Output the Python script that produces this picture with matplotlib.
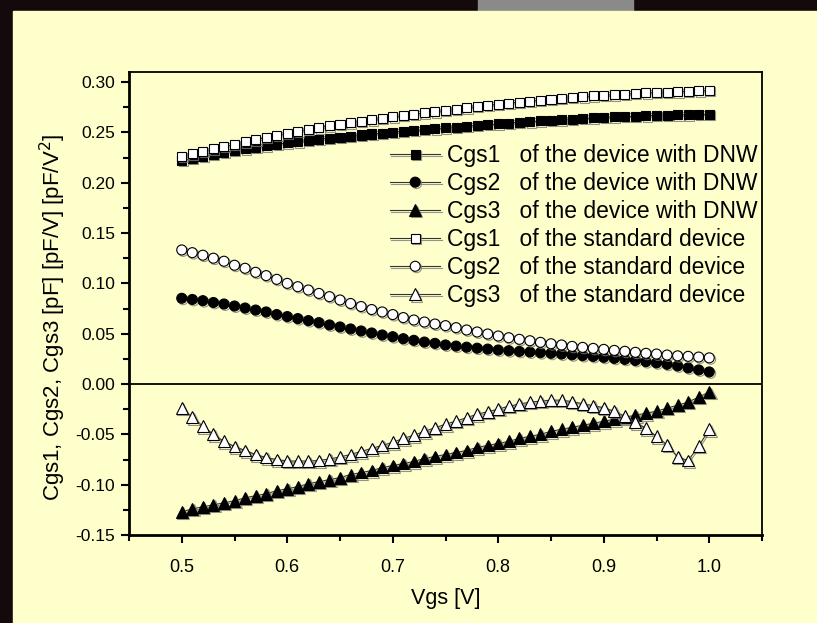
import matplotlib
matplotlib.use("Agg")
import matplotlib.pyplot as plt
import matplotlib.patheffects as pe
from matplotlib.patches import Rectangle
from matplotlib.ticker import MultipleLocator, FormatStrFormatter

plt.rcParams['font.family'] = ['Liberation Sans', 'DejaVu Sans']

vgs = [0.50, 0.51, 0.52, 0.53, 0.54, 0.55, 0.56, 0.57, 0.58, 0.59,
       0.60, 0.61, 0.62, 0.63, 0.64, 0.65, 0.66, 0.67, 0.68, 0.69,
       0.70, 0.71, 0.72, 0.73, 0.74, 0.75, 0.76, 0.77, 0.78, 0.79,
       0.80, 0.81, 0.82, 0.83, 0.84, 0.85, 0.86, 0.87, 0.88, 0.89,
       0.90, 0.91, 0.92, 0.93, 0.94, 0.95, 0.96, 0.97, 0.98, 0.99, 1.00]

cgs1_dnw = [0.2220, 0.2243, 0.2263, 0.2283, 0.2302, 0.2320, 0.2337, 0.2353, 0.2368, 0.2382,
            0.2395, 0.2408, 0.2420, 0.2432, 0.2443, 0.2454, 0.2464, 0.2474, 0.2484, 0.2493,
            0.2502, 0.2511, 0.2520, 0.2528, 0.2536, 0.2544, 0.2553, 0.2562, 0.2570, 0.2578,
            0.2585, 0.2593, 0.2600, 0.2607, 0.2614, 0.2620, 0.2626, 0.2632, 0.2638, 0.2644,
            0.2650, 0.2654, 0.2658, 0.2662, 0.2666, 0.2670, 0.2672, 0.2674, 0.2676, 0.2678, 0.2680]

cgs2_dnw = [0.0852, 0.0840, 0.0828, 0.0810, 0.0795, 0.0775, 0.0755, 0.0735, 0.0716, 0.0690,
            0.0670, 0.0650, 0.0630, 0.0610, 0.0587, 0.0567, 0.0547, 0.0527, 0.0507, 0.0487,
            0.0470, 0.0450, 0.0434, 0.0417, 0.0404, 0.0388, 0.0377, 0.0366, 0.0356, 0.0347,
            0.0338, 0.0331, 0.0324, 0.0318, 0.0311, 0.0305, 0.0298, 0.0290, 0.0282, 0.0274,
            0.0265, 0.0255, 0.0245, 0.0234, 0.0222, 0.0210, 0.0196, 0.0180, 0.0160, 0.0140, 0.0120]

cgs3_dnw = [-0.127, -0.124, -0.122, -0.120, -0.118, -0.116, -0.113, -0.111, -0.109, -0.106,
            -0.104, -0.102, -0.099, -0.097, -0.095, -0.093, -0.090, -0.088, -0.086, -0.083,
            -0.081, -0.079, -0.077, -0.074, -0.072, -0.070, -0.068, -0.066, -0.063, -0.061,
            -0.059, -0.057, -0.054, -0.052, -0.050, -0.047, -0.045, -0.043, -0.041, -0.039,
            -0.037, -0.035, -0.033, -0.031, -0.029, -0.027, -0.024, -0.021, -0.018, -0.013, -0.008]

cgs1_std = [0.2260, 0.2286, 0.2310, 0.2336, 0.2360, 0.2380, 0.2406, 0.2425, 0.2450, 0.2470,
            0.2490, 0.2510, 0.2530, 0.2545, 0.2565, 0.2580, 0.2597, 0.2610, 0.2624, 0.2640,
            0.2654, 0.2667, 0.2680, 0.2694, 0.2704, 0.2717, 0.2731, 0.2744, 0.2757, 0.2769,
            0.2780, 0.2791, 0.2801, 0.2811, 0.2820, 0.2829, 0.2838, 0.2847, 0.2855, 0.2862,
            0.2869, 0.2875, 0.2881, 0.2887, 0.2892, 0.2897, 0.2901, 0.2905, 0.2909, 0.2913, 0.2916]

cgs2_std = [0.1332, 0.1305, 0.1280, 0.1250, 0.1220, 0.1180, 0.1150, 0.1110, 0.1077, 0.1040,
            0.1000, 0.0967, 0.0934, 0.0900, 0.0868, 0.0835, 0.0800, 0.0770, 0.0740, 0.0716,
            0.0690, 0.0660, 0.0636, 0.0616, 0.0596, 0.0580, 0.0560, 0.0537, 0.0517, 0.0497,
            0.0477, 0.0460, 0.0444, 0.0430, 0.0414, 0.0400, 0.0388, 0.0374, 0.0364, 0.0354,
            0.0344, 0.0334, 0.0325, 0.0315, 0.0305, 0.0298, 0.0288, 0.0280, 0.0275, 0.0268, 0.0260]

cgs3_std = [-0.0235, -0.0330, -0.0420, -0.0500, -0.0570, -0.0620, -0.0660, -0.0700, -0.0730, -0.0750,
            -0.0765, -0.0765, -0.0765, -0.0760, -0.0745, -0.0725, -0.0700, -0.0670, -0.0640, -0.0610,
            -0.0580, -0.0540, -0.0510, -0.0470, -0.0435, -0.0400, -0.0368, -0.0335, -0.0300, -0.0275,
            -0.0250, -0.0220, -0.0200, -0.0180, -0.0170, -0.0160, -0.0160, -0.0175, -0.0195, -0.0215,
            -0.0235, -0.0270, -0.0320, -0.0380, -0.0440, -0.0520, -0.0605, -0.0725, -0.0760, -0.0617, -0.0450]

labels = ["Cgs1   of the device with DNW",
          "Cgs2   of the device with DNW",
          "Cgs3   of the device with DNW",
          "Cgs1   of the standard device",
          "Cgs2   of the standard device",
          "Cgs3   of the standard device"]

panel = '#ffffcc'

fig = plt.figure(figsize=(8.17, 6.23), dpi=100)
fig.patch.set_facecolor('#140a0b')
fig.patches.append(Rectangle((478 / 817, 1 - 11 / 623), 155 / 817, 11 / 623,
                             transform=fig.transFigure, color='#8a8a8a', zorder=-10))
fig.patches.append(Rectangle((13 / 817, 0), 1, 1 - 11 / 623,
                             transform=fig.transFigure, color=panel, zorder=-10))

ax = fig.add_axes([129 / 817, 88 / 623, 633 / 817, 463 / 623])
ax.set_zorder(5)
ax.set_facecolor(panel)

shadow = [pe.SimpleLineShadow(offset=(1, -1), shadow_color='#777777', alpha=0.8), pe.Normal()]

series = [
    (cgs1_dnw, 's', 'black', 6.5),
    (cgs2_dnw, 'o', 'black', 7.2),
    (cgs3_dnw, '^', 'black', 8.5),
    (cgs1_std, 's', 'white', 6.5),
    (cgs2_std, 'o', 'white', 7.2),
    (cgs3_std, '^', 'white', 8.5),
]
for (vals, mk, face, ms), lab in zip(series, labels):
    ax.plot(vgs, vals, color='#333333', lw=0.8, marker=mk, markersize=ms,
            markerfacecolor=face, markeredgecolor='black', markeredgewidth=0.8,
            label=lab, path_effects=shadow)

ax.axhline(0, color='black', lw=1.3, zorder=1)

ax.set_xlim(0.45, 1.05)
ax.set_ylim(-0.15, 0.31)
ax.xaxis.set_major_locator(MultipleLocator(0.1))
ax.xaxis.set_minor_locator(MultipleLocator(0.05))
ax.yaxis.set_major_locator(MultipleLocator(0.05))
ax.yaxis.set_minor_locator(MultipleLocator(0.025))
ax.xaxis.set_major_formatter(FormatStrFormatter('%.1f'))
ax.yaxis.set_major_formatter(FormatStrFormatter('%.2f'))
ax.tick_params(which='major', direction='out', length=6, width=1.5, labelsize=12.5, pad=4)
ax.tick_params(which='minor', direction='out', length=4, width=1.5)
ax.tick_params(axis='x', which='major', pad=11, labelsize=13)
for s in ax.spines.values():
    s.set_linewidth(1.3)
ax.spines['left'].set_linewidth(2)
ax.spines['bottom'].set_linewidth(2)

ax.set_xlabel('Vgs [V]', fontsize=15.5, labelpad=9)
ax.set_ylabel('Cgs1, Cgs2, Cgs3 [pF] [pF/V] [pF/V$^2$]', fontsize=16)
ax.yaxis.set_label_coords(-0.097, 0.47)

ax.legend(loc='upper right', bbox_to_anchor=(1.008, 0.864), frameon=False, fontsize=16.5,
          handlelength=2.2, handletextpad=0.3, labelspacing=0.22, borderaxespad=0.0)

fig.savefig('out.png', dpi=100, facecolor=fig.get_facecolor())
